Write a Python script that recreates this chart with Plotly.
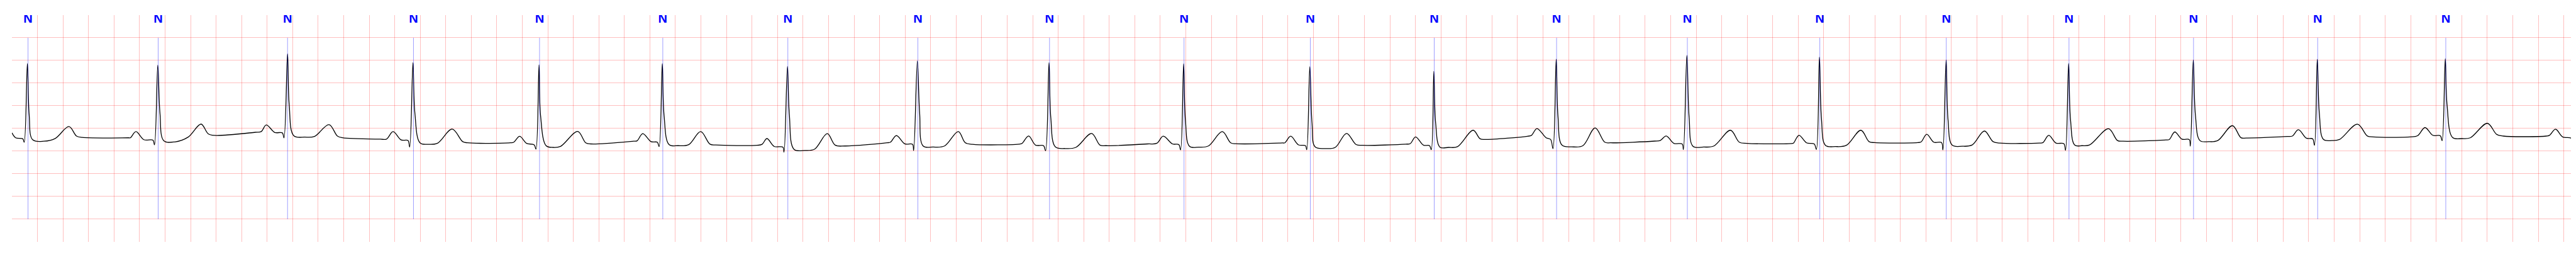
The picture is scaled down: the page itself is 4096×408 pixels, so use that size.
import plotly.graph_objects as go

# ---------------- data (time in s, amplitude in mV) ----------------
# beat annotations
beat_times = [0.126, 1.146, 2.160, 3.147, 4.135, 5.101, 6.081, 7.100, 8.132, 9.186,
              10.176, 11.147, 12.106, 13.131, 14.169, 15.160, 16.122, 17.098, 18.071, 19.075]
beat_symbols = ["N", "N", "N", "N", "N", "N", "N", "N", "N", "N",
                "N", "N", "N", "N", "N", "N", "N", "N", "N", "N"]

# leading / trailing samples of the strip
lead_t = [0.000, 0.029]
lead_v = [-0.096, -0.205]
tail_t = [20.056, 20.066]
tail_v = [-0.212, -0.270]

# QRS landmarks per beat
pr_t = [0.085, 1.105, 2.119, 3.104, 4.093, 5.058, 6.042, 7.058, 8.085, 9.145,
        10.138, 11.110, 12.059, 13.090, 14.125, 15.123, 16.082, 17.064, 18.032, 19.032]
pr_v = [-0.228, -0.258, -0.096, -0.266, -0.361, -0.303, -0.411, -0.349, -0.379, -0.354,
        -0.379, -0.379, -0.241, -0.341, -0.341, -0.311, -0.336, -0.245, -0.228, -0.160]
q_t = [0.096, 1.117, 2.132, 3.117, 4.107, 5.072, 6.051, 7.067, 8.101, 9.159,
       10.148, 11.124, 12.078, 13.100, 14.142, 15.134, 16.095, 17.073, 18.046, 19.046]
q_v = [-0.303, -0.360, -0.205, -0.409, -0.455, -0.399, -0.522, -0.486, -0.492, -0.472,
       -0.467, -0.467, -0.442, -0.462, -0.462, -0.472, -0.480, -0.387, -0.371, -0.270]
r_t = [0.121, 1.143, 2.160, 3.143, 4.131, 5.097, 6.078, 7.096, 8.128, 9.183,
       10.172, 11.144, 12.103, 13.127, 14.166, 15.159, 16.119, 17.096, 18.068, 19.071]
r_v = [1.431, 1.397, 1.647, 1.453, 1.402, 1.430, 1.368, 1.488, 1.453, 1.428,
       1.360, 1.259, 1.528, 1.611, 1.573, 1.510, 1.435, 1.510, 1.524, 1.538]
j_t = [0.135, 1.160, 2.173, 3.158, 4.143, 5.111, 6.093, 7.114, 8.142, 9.197,
       10.189, 11.158, 12.117, 13.145, 14.182, 15.174, 16.134, 17.113, 18.084, 19.085]
j_v = [0.301, 0.339, 0.521, 0.339, 0.288, 0.288, 0.301, 0.339, 0.239, 0.188,
       0.125, 0.125, 0.264, 0.239, 0.213, 0.188, 0.188, 0.288, 0.339, 0.521]
s_t = [0.162, 1.190, 2.209, 3.198, 4.186, 5.150, 6.129, 7.141, 8.177, 9.229,
       10.213, 11.192, 12.148, 13.175, 14.213, 15.206, 16.167, 17.148, 18.116, 19.128]
s_v = [-0.248, -0.270, -0.160, -0.317, -0.379, -0.354, -0.458, -0.386, -0.404, -0.392,
       -0.404, -0.412, -0.366, -0.392, -0.371, -0.366, -0.366, -0.266, -0.241, -0.198]
st_t = [0.251, 1.277, 2.296, 3.262, 4.242, 5.221, 6.214, 7.220, 8.254, 9.300,
        10.293, 11.259, 12.225, 13.259, 14.292, 15.285, 16.224, 17.217, 18.183, 19.203]
st_v = [-0.281, -0.296, -0.190, -0.349, -0.417, -0.379, -0.485, -0.409, -0.442, -0.412,
        -0.442, -0.417, -0.404, -0.409, -0.399, -0.392, -0.379, -0.291, -0.266, -0.223]

# T waves
ton_t = [0.339, 1.381, 2.371, 3.335, 4.300, 5.304, 6.291, 7.309, 8.338, 9.377,
         10.371, 11.329, 12.312, 13.339, 14.377, 15.363, 16.283, 17.288, 18.242, 19.267]
ton_v = [-0.220, -0.190, -0.175, -0.326, -0.394, -0.356, -0.455, -0.386, -0.417, -0.386,
         -0.417, -0.402, -0.379, -0.386, -0.371, -0.364, -0.364, -0.266, -0.243, -0.205]
tpk_t = [0.447, 1.482, 2.485, 3.450, 4.434, 5.398, 6.390, 7.417, 8.462, 9.486,
         10.460, 11.452, 12.408, 13.469, 14.491, 15.459, 16.432, 17.403, 18.383, 19.401]
tpk_v = [0.042, 0.097, 0.085, -0.014, -0.064, -0.069, -0.114, -0.067, -0.109, -0.069,
         -0.109, -0.039, 0.012, -0.039, -0.039, -0.056, -0.006, 0.062, 0.095, 0.114]
tend_t = [0.506, 1.537, 2.551, 3.533, 4.497, 5.471, 6.452, 7.471, 8.527, 9.552,
          10.535, 11.507, 12.484, 13.538, 14.555, 15.527, 16.502, 17.470, 18.460, 19.474]
tend_v = [-0.167, -0.114, -0.167, -0.291, -0.316, -0.346, -0.367, -0.313, -0.366, -0.316,
          -0.354, -0.228, -0.303, -0.303, -0.291, -0.291, -0.266, -0.203, -0.165, -0.131]

# baseline (TP segment)
ba_t = [0.552, 1.585, 2.591, 3.571, 4.537, 5.517, 6.531, 7.529, 8.576, 9.595,
        10.588, 11.554, 12.531, 13.599, 14.600, 15.580, 16.546, 17.512, 18.505, 19.525]
ba_v = [-0.198, -0.152, -0.205, -0.316, -0.341, -0.364, -0.386, -0.349, -0.379, -0.336,
        -0.371, -0.241, -0.316, -0.328, -0.311, -0.321, -0.281, -0.210, -0.186, -0.167]
bb_t = [0.914, 1.907, 2.887, 3.906, 4.872, 5.839, 6.858, 7.903, 8.900, 9.958,
        10.924, 11.877, 12.874, 13.956, 14.936, 15.889, 16.881, 17.834, 18.797, 19.863]
bb_v = [-0.205, -0.084, -0.235, -0.316, -0.281, -0.371, -0.315, -0.341, -0.341, -0.319,
        -0.345, -0.171, -0.278, -0.328, -0.311, -0.321, -0.253, -0.177, -0.186, -0.167]

# P waves (preceding the next beat)
pon_t = [0.928, 1.953, 2.935, 3.933, 4.899, 5.879, 6.885, 7.918, 8.973, 9.976,
         10.959, 11.909, 12.918, 13.964, 14.963, 15.918, 16.908, 17.872, 18.854, 19.887]
pon_v = [-0.205, -0.069, -0.235, -0.303, -0.273, -0.349, -0.303, -0.326, -0.326, -0.316,
         -0.334, -0.152, -0.266, -0.319, -0.296, -0.311, -0.243, -0.167, -0.160, -0.152]
ppk_t = [0.972, 1.993, 2.987, 3.979, 4.944, 5.917, 6.932, 7.968, 9.023, 10.022,
         11.001, 11.952, 12.965, 14.006, 15.007, 15.963, 16.951, 17.920, 18.912, 19.935]
ppk_v = [-0.069, 0.078, -0.069, -0.173, -0.114, -0.223, -0.157, -0.165, -0.170, -0.170,
         -0.185, -0.001, -0.165, -0.152, -0.127, -0.152, -0.077, -0.026, 0.020, -0.016]
pend_t = [1.034, 2.060, 3.050, 4.034, 5.009, 5.974, 6.998, 8.022, 9.096, 10.083,
          11.062, 12.024, 13.025, 14.065, 15.062, 16.020, 17.007, 17.983, 18.973, 19.991]
pend_v = [-0.247, -0.088, -0.253, -0.328, -0.291, -0.396, -0.338, -0.366, -0.341, -0.361,
          -0.366, -0.205, -0.328, -0.316, -0.303, -0.321, -0.235, -0.215, -0.150, -0.186]

# ---------------- assemble the trace ----------------
landmarks = [(pr_t, pr_v), (q_t, q_v), (r_t, r_v), (j_t, j_v), (s_t, s_v), (st_t, st_v),
             (ton_t, ton_v), (tpk_t, tpk_v), (tend_t, tend_v), (ba_t, ba_v), (bb_t, bb_v),
             (pon_t, pon_v), (ppk_t, ppk_v), (pend_t, pend_v)]
sig_t = list(lead_t)
sig_v = list(lead_v)
for i in range(len(r_t)):
    for tt, vv in landmarks:
        sig_t.append(tt[i])
        sig_v.append(vv[i])
sig_t += tail_t
sig_v += tail_v

# ---------------- styling ----------------
S = 0.544
X_RANGE = [0, 20.066]
Y_RANGE = [-2.5, 2.499]
ANN_LO, ANN_HI = -2.0, 2.0
LABEL_Y = 2.40

fig = go.Figure()
fig.add_trace(go.Scatter(
    x=sig_t, y=sig_v, mode="lines",
    line=dict(color="black", width=2.4 * S, shape="spline", smoothing=1.0),
    hoverinfo="skip"))

bx, by = [], []
for bt in beat_times:
    bx += [bt, bt, None]
    by += [ANN_LO, ANN_HI, None]
fig.add_trace(go.Scatter(
    x=bx, y=by, mode="lines",
    line=dict(color="rgba(0,0,255,0.5)", width=1.4 * S),
    hoverinfo="skip"))

fig.add_trace(go.Scatter(
    x=beat_times, y=[LABEL_Y] * len(beat_times), mode="text",
    text=beat_symbols, textposition="middle center",
    textfont=dict(family="Liberation Sans, Arial, sans-serif", size=37 * S,
                  color="#0000ff", weight="bold"),
    hoverinfo="skip"))

grid = "rgba(255,0,0,0.25)"
# the page body has an 8px default margin; the figure is sized/offset to compensate
fig.update_layout(
    width=4088, height=392,
    margin=dict(l=10.7, r=5.6, t=15.9, b=16.1, pad=0),
    paper_bgcolor="white", plot_bgcolor="white",
    showlegend=False,
    xaxis=dict(range=X_RANGE, tick0=0, dtick=0.2, showgrid=True, gridcolor=grid,
               gridwidth=2.0 * S, zeroline=False, showline=False, ticks="",
               showticklabels=False, fixedrange=True),
    yaxis=dict(range=Y_RANGE, tick0=0, dtick=0.5, showgrid=True, gridcolor=grid,
               gridwidth=2.0 * S, zeroline=False, showline=False, ticks="",
               showticklabels=False, fixedrange=True),
)

fig.write_html("out.html")
